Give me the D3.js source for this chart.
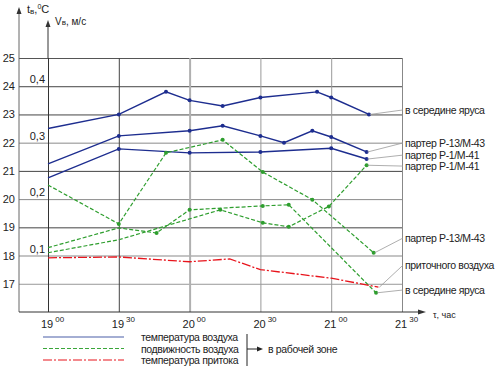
<!DOCTYPE html>
<html>
<head>
<meta charset="utf-8">
<script src="https://cdn.jsdelivr.net/npm/d3@7"></script>
<style>
  body { margin: 0; background: #fff; }
  svg { font-family: "Liberation Sans", Arial, sans-serif; }
</style>
</head>
<body>
<div id="chart"></div>
<script>
// time in minutes after 19:00
const tempTicks = [17, 18, 19, 20, 21, 22, 23, 24, 25];
const velTicks = [0.1, 0.2, 0.3, 0.4];
const velTickLabels = ["0,1", "0,2", "0,3", "0,4"];
const timeTicks = [0, 30, 60, 90, 120, 150];
const timeHours = ["19", "19", "20", "20", "21", "21"];
const timeMins = ["00", "30", "00", "30", "00", "30"];

// air temperature, °C
const tMidTime = [0, 30, 50, 60, 74, 90, 114, 120, 136];
const tMid = [22.5, 23.0, 23.8, 23.5, 23.3, 23.6, 23.8, 23.6, 23.0];
const tP13Time = [0, 30, 60, 74, 90, 100, 112, 120, 135];
const tP13 = [21.25, 22.24, 22.42, 22.6, 22.24, 22.0, 22.42, 22.2, 21.67];
const tP1Time = [0, 30, 60, 90, 120, 135];
const tP1 = [20.75, 21.78, 21.64, 21.67, 21.8, 21.42];

// air velocity, m/s
const vP13Time = [0, 30, 50, 74, 91, 112, 138];
const vP13 = [0.225, 0.156, 0.282, 0.305, 0.248, 0.199, 0.105];
const vMidTime = [0, 30, 46, 60, 91, 102, 139];
const vMid = [0.114, 0.149, 0.14, 0.181, 0.188, 0.19, 0.034];
const vP1Time = [0, 30, 73, 91, 102, 119, 135];
const vP1 = [0.105, 0.128, 0.181, 0.158, 0.151, 0.187, 0.26];

// supply air temperature, °C
const supplyTime = [0, 30, 60, 77, 90, 120, 140];
const supply = [17.92, 17.95, 17.78, 17.88, 17.5, 17.2, 16.88];

const legendLabels = ["температура воздуха", "подвижность воздуха", "температура притока"];

const W = 500, H = 368;
const svg = d3.select("#chart").append("svg")
    .attr("width", W)
    .attr("height", H);

const x = d3.scaleLinear().domain([0, 150]).range([48, 402]);
const y = d3.scaleLinear().domain([16, 25]).range([312, 58]);
const yV = d3.scaleLinear().domain([0, 0.45]).range([312, 58]);

const plotLeft = 19, plotBottom = 312, plotTop = 58;

const blue = "#1d2d8f", green = "#2e9e2e", red = "#e8141c";
const labelFont = 10.5, labelSpacing = -0.35;

// horizontal grid
const hColor = {17: "#999", 18: "#c4c4c4", 19: "#444", 20: "#8a8a8a", 21: "#444", 22: "#8a8a8a", 23: "#444", 24: "#444", 25: "#555"};
svg.append("g")
    .attr("transform", `translate(${plotLeft},0)`)
    .call(d3.axisLeft(y).tickValues(tempTicks).tickSize(-(x(150) - plotLeft)).tickPadding(4))
    .call(g => g.select(".domain").remove())
    .call(g => g.selectAll(".tick line")
        .attr("stroke", d => hColor[d])
        .attr("stroke-width", d => d === 18 ? 2 : 1))
    .call(g => g.selectAll(".tick text")
        .attr("font-size", 11).attr("fill", "#222").attr("font-family", "Liberation Sans, Arial"));

// vertical grid
const vColor = {0: "#333", 30: "#444", 60: "#b0b0b0", 90: "#999", 120: "#999", 150: "#888"};
svg.append("g")
    .attr("transform", `translate(0,${plotBottom})`)
    .call(d3.axisBottom(x).tickValues(timeTicks).tickSize(-(plotBottom - plotTop)).tickFormat(""))
    .call(g => g.select(".domain").remove())
    .call(g => g.selectAll(".tick line")
        .attr("stroke", d => vColor[d])
        .attr("stroke-width", d => d === 60 ? 2 : 1));

// time labels with superscript minutes
const tl = svg.append("g").selectAll("text")
    .data(timeTicks)
    .enter().append("text")
    .attr("x", d => x(d) - 7)
    .attr("y", 328)
    .attr("font-size", 11)
    .attr("fill", "#222");
tl.append("tspan").text((d, i) => timeHours[i]);
tl.append("tspan").attr("dx", 2).attr("dy", -6).attr("font-size", 8).text((d, i) => timeMins[i]);

// axes with arrows
svg.append("line").attr("x1", plotLeft).attr("x2", plotLeft).attr("y1", 9).attr("y2", plotBottom)
    .attr("stroke", "#666");
svg.append("path").attr("d", `M${plotLeft - 2.5},14L${plotLeft},7L${plotLeft + 2.5},14Z`).attr("fill", "#333");
svg.append("line").attr("x1", x(0)).attr("x2", x(0)).attr("y1", 24).attr("y2", plotTop)
    .attr("stroke", "#333");
svg.append("path").attr("d", `M${x(0) - 2.5},27L${x(0)},20L${x(0) + 2.5},27Z`).attr("fill", "#333");
svg.append("line").attr("x1", plotLeft).attr("x2", 422).attr("y1", plotBottom).attr("y2", plotBottom)
    .attr("stroke", "#333");
svg.append("path").attr("d", `M418,${plotBottom - 2.5}L426,${plotBottom}L418,${plotBottom + 2.5}Z`).attr("fill", "#333");

// axis titles
const tt = svg.append("text").attr("x", 27).attr("y", 13).attr("font-size", 11).attr("fill", "#222");
tt.append("tspan").text("t");
tt.append("tspan").attr("font-size", 8).attr("dy", 1).text("в");
tt.append("tspan").attr("dy", -1).text(",");
tt.append("tspan").attr("font-size", 7).attr("dy", -4).text("0");
tt.append("tspan").attr("dy", 4).text("C");
const vt = svg.append("text").attr("x", 55).attr("y", 25).attr("font-size", 10).attr("fill", "#222");
vt.append("tspan").text("V");
vt.append("tspan").attr("font-size", 8).text("в");
vt.append("tspan").text(", м/с");

svg.append("text").attr("x", 433).attr("y", 318).attr("font-size", 9).attr("fill", "#222")
    .text("τ, час");

// velocity tick labels
svg.append("g").selectAll("text")
    .data(velTicks)
    .enter().append("text")
    .attr("x", 45)
    .attr("y", d => yV(d) - 3)
    .attr("text-anchor", "end")
    .attr("font-size", 11)
    .attr("fill", "#222")
    .text((d, i) => velTickLabels[i]);

// series
const tLine = d3.line().x(d => x(d[0])).y(d => y(d[1]));
const vLine = d3.line().x(d => x(d[0])).y(d => yV(d[1]));
const zip = (a, b) => a.map((t, i) => [t, b[i]]);

const series = [
    {pts: zip(tMidTime, tMid), line: tLine, sc: y, color: blue, dash: null, w: 1.4, skip: [0]},
    {pts: zip(tP13Time, tP13), line: tLine, sc: y, color: blue, dash: null, w: 1.4, skip: [0]},
    {pts: zip(tP1Time, tP1), line: tLine, sc: y, color: blue, dash: null, w: 1.4, skip: [0]},
    {pts: zip(vP13Time, vP13), line: vLine, sc: yV, color: green, dash: "4,2", w: 1.2, skip: [0]},
    {pts: zip(vMidTime, vMid), line: vLine, sc: yV, color: green, dash: "4,2", w: 1.2, skip: [0, 1]},
    {pts: zip(vP1Time, vP1), line: vLine, sc: yV, color: green, dash: "4,2", w: 1.2, skip: [0, 1]},
    {pts: zip(supplyTime, supply), line: tLine, sc: y, color: red, dash: "9,2,2,2", w: 1.3, skip: null}
];

series.forEach(s => {
    svg.append("path")
        .attr("d", s.line(s.pts))
        .attr("fill", "none")
        .attr("stroke", s.color)
        .attr("stroke-width", s.w)
        .attr("stroke-dasharray", s.dash);
    if (s.skip) {
        svg.append("g").selectAll("circle")
            .data(s.pts.filter((p, i) => !s.skip.includes(i)))
            .enter().append("circle")
            .attr("cx", d => x(d[0]))
            .attr("cy", d => s.sc(d[1]))
            .attr("r", 2)
            .attr("fill", s.color);
    }
});

// end labels with leader lines
const endLabels = [
    {text: "в середине яруса", s: 0, at: 23.16},
    {text: "партер Р-13/М-43", s: 1, at: 21.99},
    {text: "партер Р-1/М-41", s: 2, at: 21.56},
    {text: "партер Р-1/М-41", s: 5, at: 21.17},
    {text: "партер Р-13/М-43", s: 3, at: 18.62},
    {text: "приточного воздуха", s: 6, at: 17.66},
    {text: "в середине яруса", s: 4, at: 16.78}
];
endLabels.forEach(l => {
    const s = series[l.s];
    const last = s.pts[s.pts.length - 1];
    svg.append("line")
        .attr("x1", x(last[0]) + 1).attr("y1", s.sc(last[1]))
        .attr("x2", 403).attr("y2", y(l.at))
        .attr("stroke", "#999").attr("stroke-width", 0.8);
    svg.append("text")
        .attr("x", 405).attr("y", y(l.at) + 4)
        .attr("font-size", labelFont).attr("letter-spacing", labelSpacing).attr("fill", "#222")
        .text(l.text);
});

// legend
const lg = svg.append("g");
const legendStyles = [
    {color: "#4a5ea8", dash: null},
    {color: "#3aa63a", dash: "4,2"},
    {color: red, dash: "9,2,2,2"}
];
legendLabels.forEach((t, i) => {
    const ly = 337 + i * 11.5;
    lg.append("line").attr("x1", 43).attr("x2", 124).attr("y1", ly).attr("y2", ly)
        .attr("stroke", legendStyles[i].color).attr("stroke-width", 1.2)
        .attr("stroke-dasharray", legendStyles[i].dash);
    lg.append("text").attr("x", 141).attr("y", ly + 4)
        .attr("font-size", labelFont).attr("letter-spacing", labelSpacing).attr("fill", "#222").text(t);
});
lg.append("line").attr("x1", 247).attr("x2", 247).attr("y1", 334).attr("y2", 366)
    .attr("stroke", "#222");
lg.append("line").attr("x1", 247).attr("x2", 258).attr("y1", 349).attr("y2", 349)
    .attr("stroke", "#222");
lg.append("path").attr("d", "M257,346.5L263,349L257,351.5Z").attr("fill", "#222");
lg.append("text").attr("x", 268).attr("y", 353)
    .attr("font-size", labelFont).attr("letter-spacing", labelSpacing).attr("fill", "#222")
    .text("в рабочей зоне");
</script>
</body>
</html>
